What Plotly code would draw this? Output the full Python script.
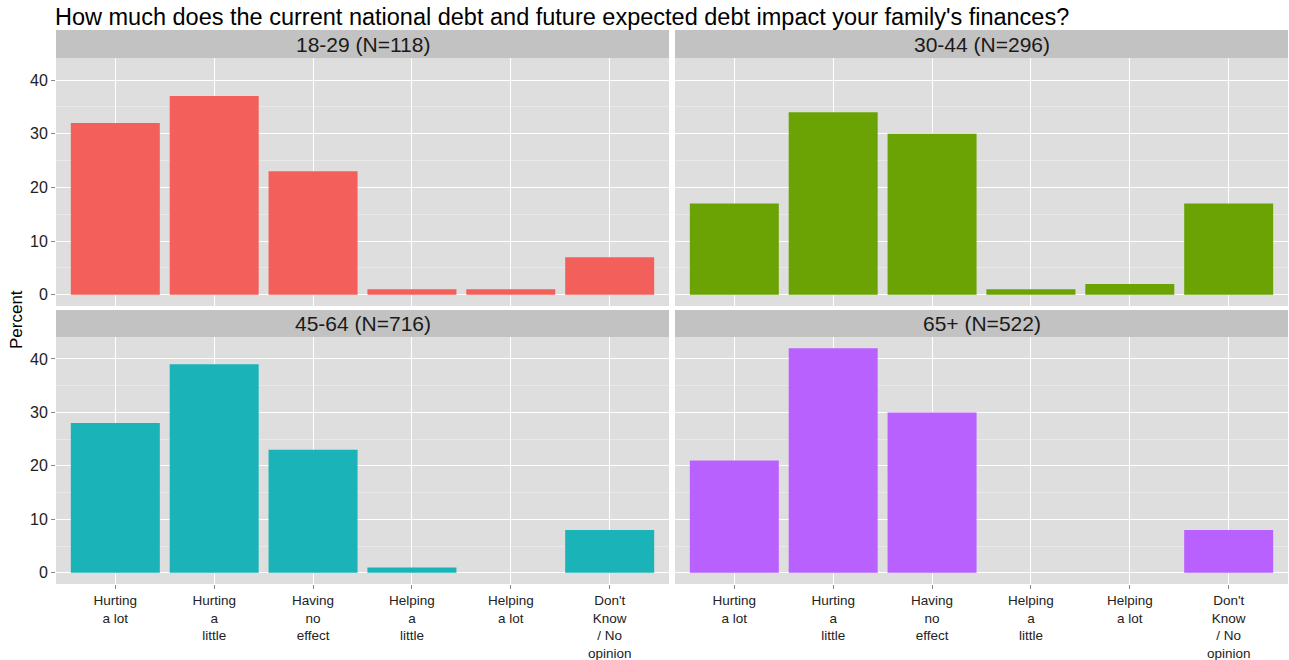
import plotly.graph_objects as go
from plotly.subplots import make_subplots

# answer categories, wrapped the way the axis shows them
responses = [
    "Hurting<br>a lot",
    "Hurting<br>a<br>little",
    "Having<br>no<br>effect",
    "Helping<br>a<br>little",
    "Helping<br>a lot",
    "Don't<br>Know<br>/ No<br>opinion",
]

age_groups = ["18-29 (N=118)", "30-44 (N=296)", "45-64 (N=716)", "65+ (N=522)"]

pct_18_29 = [32, 37, 23, 1, 1, 7]
pct_30_44 = [17, 34, 30, 1, 2, 17]
pct_45_64 = [28, 39, 23, 1, 0, 8]
pct_65_up = [21, 42, 30, 0, 0, 8]

colors = ["#F35F5B", "#6BA305", "#19B3B8", "#B961FF"]

FONT = "Liberation Sans, Arial, sans-serif"
W, H = 1289, 660
ML, MR, MT, MB = 56, 1, 30, 76
PW, PH = W - ML - MR, H - MT - MB


def px_x(x):
    return (x - ML) / PW


def px_y(y):
    return (H - MB - y) / PH


fig = make_subplots(rows=2, cols=2)

series = [pct_18_29, pct_30_44, pct_45_64, pct_65_up]
cells = [(1, 1), (1, 2), (2, 1), (2, 2)]
for vals, col, (r, c) in zip(series, colors, cells):
    fig.add_trace(
        go.Bar(x=responses, y=vals, marker_color=col, marker_line_width=0,
               width=0.9, showlegend=False, hovertemplate="%{y}%<extra></extra>"),
        row=r, col=c,
    )

# panel geometry (pixels of the reference)
x_dom = [(px_x(56), px_x(669)), (px_x(675), px_x(1288))]
y_dom = [(px_y(306), px_y(58)), (px_y(584), px_y(337))]
strips = [(30, 58), (310, 337)]

for i, (r, c) in enumerate(cells):
    n = "" if i == 0 else str(i + 1)
    fig.layout["xaxis" + n].update(
        domain=x_dom[c - 1], type="category", range=[-0.6, 5.6],
        showgrid=True, gridcolor="white", gridwidth=1.2,
        showticklabels=(r == 2), ticks="outside" if r == 2 else "",
        ticklen=4, tickcolor="#888888", tickwidth=1,
        tickfont=dict(size=13.5, color="#222222", family=FONT),
        tickangle=0, showline=False, zeroline=False, fixedrange=True,
        automargin=False,
    )
    fig.layout["yaxis" + n].update(
        domain=y_dom[r - 1], range=[-2.1, 44.1],
        tickvals=[0, 10, 20, 30, 40],
        showgrid=True, gridcolor="white", gridwidth=1.2,
        minor=dict(tickvals=[5, 15, 25, 35], showgrid=True,
                   gridcolor="#E9E9E9", gridwidth=0.8),
        showticklabels=(c == 1), ticks="outside" if c == 1 else "",
        ticklen=4, tickcolor="#888888", tickwidth=1,
        tickfont=dict(size=16, color="#222222", family=FONT),
        showline=False, zeroline=False, fixedrange=True,
        automargin=False,
    )

# facet strips
for i, (r, c) in enumerate(cells):
    y0, y1 = strips[r - 1]
    x0, x1 = x_dom[c - 1]
    fig.add_shape(type="rect", xref="paper", yref="paper",
                  x0=x0, x1=x1, y0=px_y(y1), y1=px_y(y0),
                  fillcolor="#C2C2C2", line_width=0, layer="below")
    fig.add_annotation(text=age_groups[i], xref="paper", yref="paper",
                       x=(x0 + x1) / 2, y=px_y((y0 + y1) / 2),
                       showarrow=False, xanchor="center", yanchor="middle",
                       font=dict(size=21, color="#1A1A1A", family=FONT))

fig.add_annotation(
    text="How much does the current national debt and future expected debt impact your family's finances?",
    xref="paper", yref="paper", x=px_x(53), y=px_y(17),
    xanchor="left", yanchor="middle", showarrow=False,
    font=dict(size=23.5, color="black", family=FONT),
)
fig.add_annotation(
    text="Percent", xref="paper", yref="paper", x=px_x(16), y=px_y(320),
    textangle=-90, xanchor="center", yanchor="middle", showarrow=False,
    font=dict(size=17, color="black", family=FONT),
)

fig.update_layout(
    width=W, height=H,
    margin=dict(l=ML, r=MR, t=MT, b=MB, autoexpand=False),
    plot_bgcolor="#DEDEDE", paper_bgcolor="white",
    bargap=0.1, font=dict(family=FONT),
)

# drop the default page margin so the figure sits at the window's corner
fig.write_html("out.html", config={"displayModeBar": False},
               post_script="document.body.style.margin='0';document.body.style.overflow='hidden';")
